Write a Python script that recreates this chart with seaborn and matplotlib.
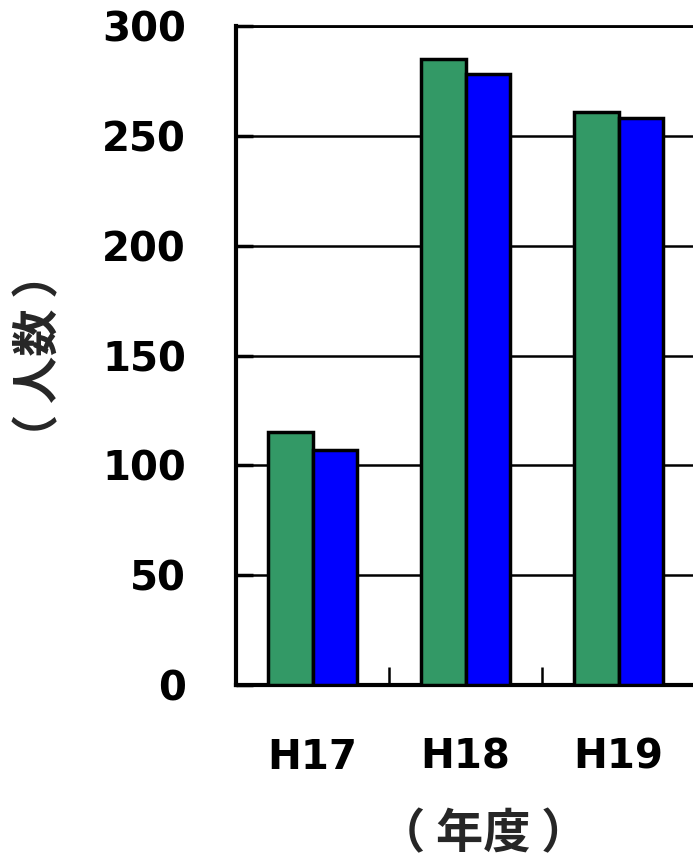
import matplotlib
matplotlib.use("Agg")
import matplotlib.pyplot as plt
import seaborn as sns
import pandas as pd
from matplotlib.ticker import FixedLocator

years = ["H17", "H18", "H19"]
series_names = ["系列1", "系列2"]
series1 = [115, 285, 261]
series2 = [107, 278, 258]
y_ticks = [0, 50, 100, 150, 200, 250, 300]
colors = ["#339966", "#0000FF"]

df = pd.DataFrame({
    "year": years * 2,
    "series": [series_names[0]] * 3 + [series_names[1]] * 3,
    "value": series1 + series2,
})

sns.set_theme(style="white")
plt.rcParams["font.family"] = ["Noto Sans CJK JP", "DejaVu Sans"]

fig = plt.figure(figsize=(6.93, 8.60), dpi=100)
ax = fig.add_axes([236 / 693, 175 / 860, 459 / 693, 659 / 860])

sns.barplot(data=df, x="year", y="value", hue="series", palette=colors,
            width=0.58, gap=0, edgecolor="black", linewidth=2.5,
            legend=False, ax=ax, zorder=3, saturation=1)

ax.set_xlim(-0.5, 2.5)
ax.set_ylim(0, 300)
tick_font = dict(family="DejaVu Sans", fontsize=29, fontweight="bold")
ax.set_yticks(y_ticks)
ax.set_yticklabels([str(t) for t in y_ticks], **tick_font)
ax.set_xticks(range(len(years)))
ax.set_xticklabels(years, **tick_font)
ax.xaxis.set_minor_locator(FixedLocator([0.5, 1.5]))
for lbl in ax.get_yticklabels():
    lbl.set_va("center_baseline")

for t in y_ticks[1:]:
    ax.axhline(t, color="black", linewidth=1.8, zorder=1)

ax.tick_params(axis="y", which="major", direction="in", length=12, width=2.5,
               pad=36, colors="black", left=True)
ax.tick_params(axis="x", which="major", length=0, pad=38, colors="black")
ax.tick_params(axis="x", which="minor", direction="in", length=13, width=1.8,
               bottom=True, colors="black")

for side in ["left", "bottom"]:
    ax.spines[side].set_visible(True)
    ax.spines[side].set_color("black")
    ax.spines[side].set_linewidth(3)
ax.spines["top"].set_visible(True)
ax.spines["top"].set_color("black")
ax.spines["top"].set_linewidth(2)
ax.spines["right"].set_visible(False)

ax.set_xlabel("")
ax.set_ylabel("")

fig.text(39 / 693, 1 - 356 / 860, "（ 人数 ）", rotation=90, ha="center", va="center",
         fontsize=34, fontweight="bold")
fig.text(483 / 693, 1 - 834 / 860, "（ 年度 ）", ha="center", va="center",
         fontsize=34, fontweight="bold")

fig.savefig("out.png", dpi=100)
